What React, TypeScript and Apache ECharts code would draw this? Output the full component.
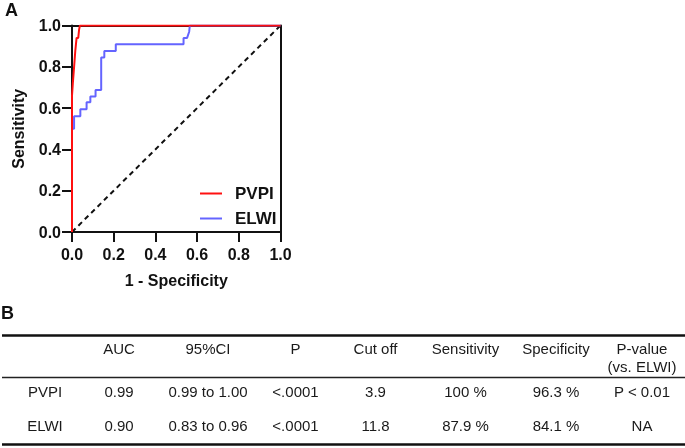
import React, { useEffect, useRef } from "react";
import * as echarts from "echarts";

// ROC curve data (1 - specificity, sensitivity)
const pvpiX = [0, 0, 0.004, 0.01, 0.016, 0.022, 0.03, 0.034, 0.038, 1.0];
const pvpiY = [0, 0.66, 0.72, 0.8, 0.88, 0.94, 0.94, 0.98, 1.0, 1.0];

const elwiX = [0, 0.01, 0.01, 0.04, 0.04, 0.07, 0.07, 0.088, 0.088, 0.113, 0.113, 0.14, 0.14, 0.155, 0.155, 0.21, 0.21, 0.535, 0.535, 0.552, 0.562, 0.565, 1.0];
const elwiY = [0.5, 0.5, 0.56, 0.56, 0.595, 0.595, 0.628, 0.628, 0.656, 0.656, 0.688, 0.688, 0.845, 0.845, 0.876, 0.876, 0.909, 0.909, 0.94, 0.94, 0.97, 1.0, 1.0];

const refX = [0, 1];
const refY = [0, 1];

const axisTicks = ["0.0", "0.2", "0.4", "0.6", "0.8", "1.0"];

// Table
const tableHeader = ["", "AUC", "95%CI", "P", "Cut off", "Sensitivity", "Specificity", "P-value\n(vs. ELWI)"];
const rowPVPI = ["PVPI", "0.99", "0.99 to 1.00", "<.0001", "3.9", "100 %", "96.3 %", "P < 0.01"];
const rowELWI = ["ELWI", "0.90", "0.83 to 0.96", "<.0001", "11.8", "87.9 %", "84.1 %", "NA"];

const colX = [45, 119, 208, 295.5, 375.5, 465.5, 556, 642];
const rowY = [391.5, 425.5];

const pairs = (xs: number[], ys: number[]) => xs.map((x, i) => [x, ys[i]]);

const lineIcon = "path://M0,0 L22,0 L22,2 L0,2 Z";

export default function App() {
  const ref = useRef<HTMLDivElement>(null);
  useEffect(() => {
    if (!ref.current) return;
    const chart = echarts.init(ref.current, undefined, { renderer: "svg" });
    const fam = "'Liberation Sans', Arial, sans-serif";
    const bold = { fontFamily: fam, fontWeight: "bold" as const, color: "#111" };
    const tColor = "#1a1a1a";

    const graphics: any[] = [
      { type: "text", x: 5, y: 1, style: { text: "A", font: `bold 18px ${fam}`, fill: "#111", verticalAlign: "top" } },
      { type: "text", x: 1, y: 304, style: { text: "B", font: `bold 18px ${fam}`, fill: "#111", verticalAlign: "top" } },
      { type: "line", shape: { x1: 2, y1: 335.5, x2: 685, y2: 335.5 }, style: { stroke: "#111", lineWidth: 2.5 } },
      { type: "line", shape: { x1: 2, y1: 377.5, x2: 685, y2: 377.5 }, style: { stroke: "#222", lineWidth: 1.3 } },
      { type: "line", shape: { x1: 2, y1: 444.5, x2: 685, y2: 444.5 }, style: { stroke: "#111", lineWidth: 2.5 } },
    ];
    tableHeader.forEach((h, i) => {
      if (!h) return;
      graphics.push({
        type: "text",
        x: colX[i],
        y: 339,
        style: { text: h, font: `15px ${fam}`, fill: tColor, align: "center", verticalAlign: "top", lineHeight: 18 },
      });
    });
    [rowPVPI, rowELWI].forEach((row, r) => {
      row.forEach((c, i) => {
        graphics.push({
          type: "text",
          x: colX[i],
          y: rowY[r],
          style: { text: c, font: `15px ${fam}`, fill: tColor, align: "center", verticalAlign: "middle" },
        });
      });
    });

    const frameAxis = {
      type: "value",
      min: 0,
      max: 1,
      interval: 0.2,
      axisLine: { show: true, onZero: false, lineStyle: { color: "#111", width: 2 } },
      axisTick: { show: false },
      axisLabel: { show: false },
      splitLine: { show: false },
    };

    chart.setOption({
      animation: false,
      grid: { left: 72, top: 25.5, width: 208.5, height: 206.5 },
      legend: {
        data: [
          { name: "PVPI", icon: lineIcon },
          { name: "ELWI", icon: lineIcon },
        ],
        orient: "vertical",
        left: 200,
        top: 185,
        padding: 0,
        itemWidth: 22,
        itemHeight: 14,
        itemGap: 8,
        textStyle: { ...bold, fontSize: 17, lineHeight: 14, padding: [0, 0, 0, 8] },
      },
      xAxis: [
        {
          type: "value",
          position: "bottom",
          min: 0,
          max: 1,
          interval: 0.2,
          name: "1 - Specificity",
          nameLocation: "middle",
          nameGap: 40,
          nameTextStyle: { ...bold, fontSize: 16 },
          axisLine: { show: true, onZero: false, lineStyle: { color: "#111", width: 2 } },
          axisTick: { show: true, length: 10, lineStyle: { color: "#111", width: 2 } },
          axisLabel: { ...bold, fontSize: 16, margin: 14, formatter: (v: number) => axisTicks[Math.round(v * 5)] },
          splitLine: { show: false },
        },
        { ...frameAxis, position: "top" },
      ],
      yAxis: [
        {
          type: "value",
          position: "left",
          min: 0,
          max: 1,
          interval: 0.2,
          name: "Sensitivity",
          nameLocation: "middle",
          nameGap: 46,
          nameTextStyle: { ...bold, fontSize: 16 },
          axisLine: { show: true, onZero: false, lineStyle: { color: "#111", width: 2 } },
          axisTick: { show: true, length: 10, lineStyle: { color: "#111", width: 2 } },
          axisLabel: { ...bold, fontSize: 16, margin: 11, formatter: (v: number) => axisTicks[Math.round(v * 5)] },
          splitLine: { show: false },
        },
        { ...frameAxis, position: "right" },
      ],
      series: [
        {
          name: "ref",
          type: "line",
          data: pairs(refX, refY),
          symbol: "none",
          lineStyle: { color: "#111", width: 2, type: [5, 4] },
          silent: true,
        },
        {
          name: "ELWI",
          type: "line",
          data: pairs(elwiX, elwiY),
          symbol: "none",
          color: "#6464ff",
          lineStyle: { color: "#6464ff", width: 2 },
        },
        {
          name: "PVPI",
          type: "line",
          data: pairs(pvpiX, pvpiY),
          symbol: "none",
          color: "#ff1010",
          lineStyle: { color: "#ff1010", width: 2 },
        },
      ],
      graphic: graphics,
    });
    return () => chart.dispose();
  }, []);
  return <div ref={ref} style={{ position: "fixed", left: 0, top: 0, width: 685, height: 448 }} />;
}
